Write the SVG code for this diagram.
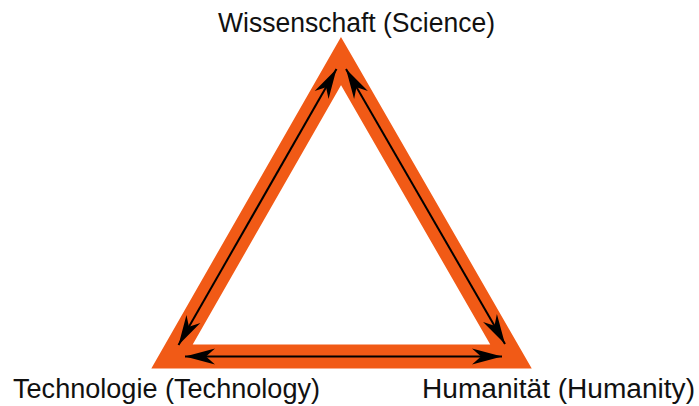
<svg xmlns="http://www.w3.org/2000/svg" width="699" height="406" viewBox="0 0 699 406">
  <style>
    .lbl { font-family: "Liberation Sans", Arial, sans-serif; font-size: 27px; fill: #111; }
    .frame { fill: none; stroke: #F15A16; stroke-width: 24; stroke-linejoin: miter; stroke-miterlimit: 10; }
    .arr { stroke: #000; stroke-width: 2; fill: none; marker-start: url(#stealth); marker-end: url(#stealth); }
  </style>
  <defs>
    <marker id="stealth" markerUnits="userSpaceOnUse" viewBox="-31 -9 32 18" refX="0" refY="0" markerWidth="32" markerHeight="18" orient="auto-start-reverse">
      <path d="M0,0 L-30,-8 L-21,0 L-30,8 Z" fill="#000"/>
    </marker>
  </defs>
  <g id="triangle">
    <polygon class="frame" points="341,61 511,356.5 172,356.5"/>
  </g>
  <g id="connectors">
    <line class="arr" x1="336.5" y1="69" x2="178.5" y2="345"/>
    <line class="arr" x1="346" y1="69" x2="505" y2="344"/>
    <line class="arr" x1="185" y1="356.5" x2="502" y2="356.5"/>
  </g>
  <g id="science">
    <text class="lbl" x="218" y="32" textLength="277" lengthAdjust="spacingAndGlyphs">Wissenschaft (Science)</text>
  </g>
  <g id="technology">
    <text class="lbl" x="13" y="398" textLength="307" lengthAdjust="spacingAndGlyphs">Technologie (Technology)</text>
  </g>
  <g id="humanity">
    <text class="lbl" x="422" y="398" textLength="273" lengthAdjust="spacingAndGlyphs">Humanität (Humanity)</text>
  </g>
</svg>
